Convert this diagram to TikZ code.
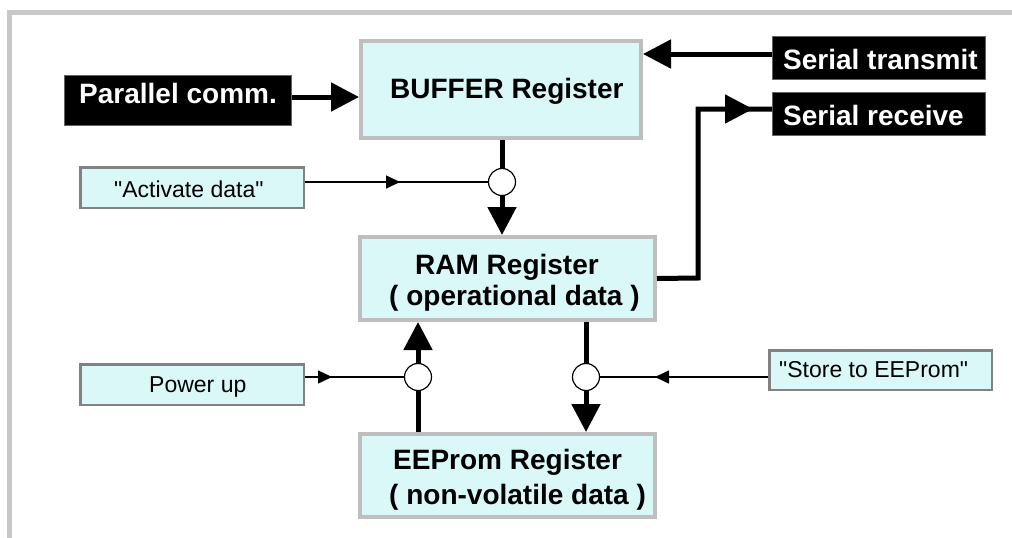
\documentclass[tikz,border=0pt]{standalone}
\usepackage{fontspec}
\setmainfont{Liberation Sans}
\newfontfamily\plainsans{Liberation Sans}
\usetikzlibrary{arrows.meta,decorations.markings}
\definecolor{boxfill}{RGB}{218,248,248}
\definecolor{regborder}{RGB}{190,190,190}
\definecolor{smallborder}{RGB}{130,130,130}
\definecolor{frame}{RGB}{200,200,200}
\tikzset{
  regbox/.style={draw=regborder, line width=4pt, fill=boxfill, inner sep=0pt},
  smallbox/.style={draw=smallborder, line width=2.5pt, fill=boxfill, inner sep=0pt},
  blackbox/.style={draw={rgb,255:red,100;green,100;blue,100}, line width=1pt, fill=black, inner sep=0pt},
  btext/.style={anchor=base west, inner sep=0pt, font=\fontsize{28}{34}\selectfont\bfseries},
  wtext/.style={btext, text=white},
  rtext/.style={anchor=base west, inner sep=0pt, font=\plainsans\fontsize{23}{28}\selectfont},
  junction/.style={circle, draw=black, line width=1.2pt, fill=white, minimum size=27pt, inner sep=0pt},
  thickline/.style={line width=5pt},
  thickarrow/.style={line width=5pt, -{Triangle[length=28pt,width=28pt]}},
  thinline/.style={line width=1.5pt},
  midarrow/.style={postaction={decorate, decoration={markings,
      mark=at position #1 with {\arrow{Triangle[length=14pt,width=13pt]}}}}},
  bigmidarrow/.style={postaction={decorate, decoration={markings,
      mark=at position #1 with {\arrow{Triangle[length=28pt,width=28pt]}}}}}
}
\begin{document}
\begin{tikzpicture}[x=1pt,y=-1pt]
\useasboundingbox (0,0) rectangle (1012,538);
% frame
\draw[frame, line width=5pt] (9.5,538) -- (9.5,12.5) -- (1012,12.5);

% boxes
\node[regbox, minimum width=280pt, minimum height=97pt] (buf) at (501,89.5) {};
\node[regbox, minimum width=295pt, minimum height=83pt] (ram) at (507.5,278.5) {};
\node[regbox, minimum width=295pt, minimum height=83pt] (ee) at (507.5,475.5) {};
\node[blackbox, minimum width=227pt, minimum height=50pt] (par) at (178,100.5) {};
\node[blackbox, minimum width=213pt, minimum height=43pt] (st) at (879,58) {};
\node[blackbox, minimum width=213pt, minimum height=43pt] (sr) at (879,114) {};
\node[smallbox, minimum width=223.5pt, minimum height=40.5pt] (act) at (192,187.5) {};
\node[smallbox, minimum width=223.5pt, minimum height=40.5pt] (pwr) at (192,384.5) {};
\node[smallbox, minimum width=222.5pt, minimum height=39.5pt] (sto) at (880.5,370) {};

% texts
\node[btext] (tbuf) at (390,98) {BUFFER Register};
\node[btext] (tram1) at (415,274) {RAM Register};
\node[btext] (tram2) at (389,305) {( operational data )};
\node[btext] (tee1) at (393,469) {EEProm Register};
\node[btext] (tee2) at (389,504) {( non-volatile data )};
\node[wtext] (tpar) at (79,103) {Parallel comm.};
\node[wtext] (tst) at (783,69) {Serial transmit};
\node[wtext] (tsr) at (783,125) {Serial receive};
\node[rtext] (tact) at (114,197) {"Activate data"};
\node[rtext] (tpwr) at (149,392) {Power up};
\node[rtext] (tsto) at (779,377) {"Store to EEProm"};

% junctions
\node[junction] (c1) at (502,182) {};
\node[junction] (c2) at (418,377) {};
\node[junction] (c3) at (586,377) {};

% thick connectors
\coordinate (parout) at ([yshift=3.5pt]par.east);
\coordinate (stout) at ([yshift=4pt]st.west);
\coordinate (srin) at ([yshift=5pt]sr.west);
\coordinate (rbend) at (698,278);
\draw[thickarrow] (parout) -- (parout -| buf.west);
\draw[thickarrow] (stout) -- (stout -| buf.east);
\draw[thickline, line join=miter, bigmidarrow=265pt] (ram.east) -- (rbend) -- (rbend |- srin) -- (srin);
\draw[thickline] (c1 |- buf.south) -- (c1.north);
\draw[thickarrow] (c1.south) -- (c1 |- ram.north);
\draw[thickline] (c2 |- ee.north) -- (c2.south);
\draw[thickarrow] (c2.north) -- (c2 |- ram.south);
\draw[thickline] (c3 |- ram.south) -- (c3.north);
\draw[thickarrow] (c3.south) -- (c3 |- ee.north);

% thin control connectors
\draw[thinline, midarrow=95pt] (act.east |- c1) -- (c1.west);
\draw[thinline, midarrow=27pt] (pwr.east |- c2) -- (c2.west);
\draw[thinline, midarrow=113pt] (sto.west |- c3) -- (c3.east);
\end{tikzpicture}
\end{document}
